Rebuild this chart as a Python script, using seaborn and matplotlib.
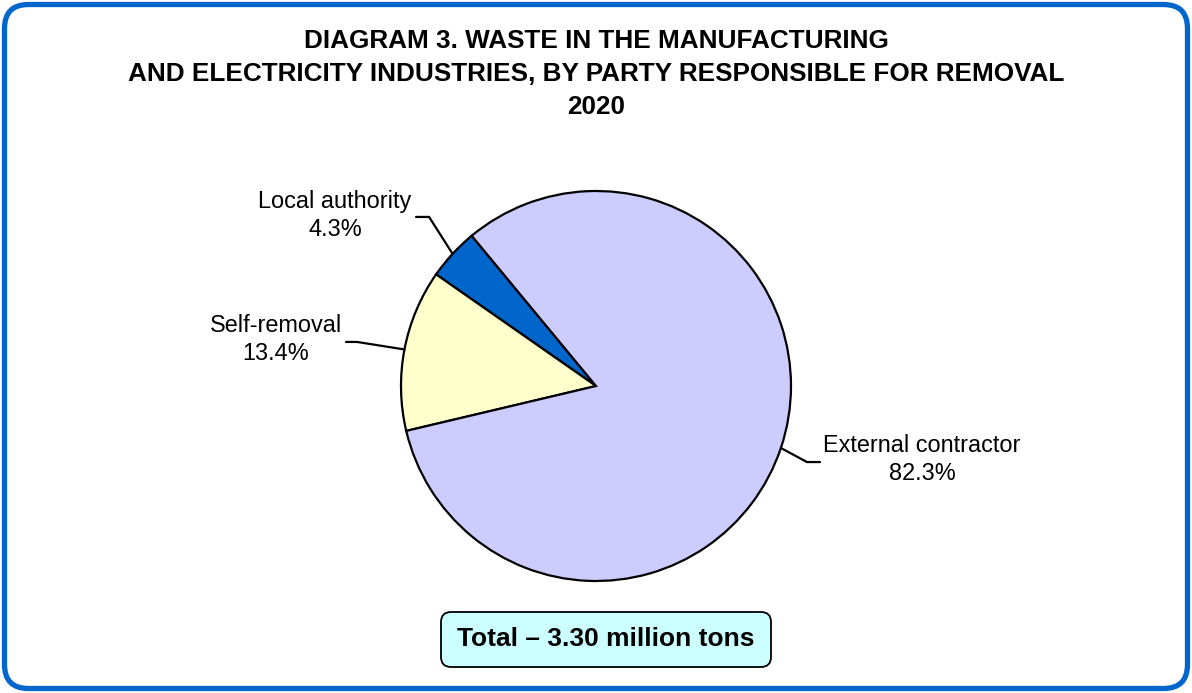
import numpy as np
import matplotlib
matplotlib.use("Agg")
import matplotlib.pyplot as plt
from matplotlib.patches import FancyBboxPatch
import seaborn as sns

# Waste by party responsible for removal, 2020 (percent of total)
categories = ["Local authority", "Self-removal", "External contractor"]
shares = [4.3, 13.4, 82.3]
total_label = "Total \u2013 3.30 million tons"
title_lines = [
    "DIAGRAM 3. WASTE IN THE MANUFACTURING",
    "AND ELECTRICITY INDUSTRIES, BY PARTY RESPONSIBLE FOR REMOVAL",
    "2020",
]

sns.set_style("white")
plt.rcParams["font.family"] = ["Liberation Sans", "DejaVu Sans"]

colors = sns.color_palette(["#0066CC", "#FFFFCC", "#CCCCFF"])

W, H = 1192, 693
fig = plt.figure(figsize=(W / 100, H / 100), dpi=100)
fig.patch.set_facecolor("white")

# outer rounded frame (display pixels)
frame = FancyBboxPatch((4.5, 4.5), W - 9, H - 9,
                       boxstyle="round,pad=0,rounding_size=24",
                       transform=None, facecolor="none",
                       edgecolor="#0066CC", linewidth=3.8, zorder=0)
fig.patches.append(frame)

# title
for i, line in enumerate(title_lines):
    fig.text(0.5, 1 - (41 + 33 * i) / H, line, ha="center", va="center",
             fontsize=18.8, fontweight="bold", color="black")

# pie: center (596, 386) px, radius 195 px
cx, cy, r = 596, 386, 195
ax = fig.add_axes([(cx - r) / W, (H - cy - r) / H, 2 * r / W, 2 * r / H])
start = 129.6
wedges, _ = ax.pie(shares, colors=colors, startangle=start, counterclock=True,
                   radius=1.0,
                   wedgeprops=dict(edgecolor="black", linewidth=1.6))
ax.set_xlim(-1, 1)
ax.set_ylim(-1, 1)
ax.set_aspect("equal")
ax.axis("off")

# leader lines from wedge mid-angle to label
layout = {
    "Local authority": dict(elbow=(-0.856, 0.867), end=-0.923, text=(-1.338, 0.872)),
    "Self-removal": dict(elbow=(-1.226, 0.226), end=-1.282, text=(-1.641, 0.236)),
    "External contractor": dict(elbow=(1.082, -0.390), end=1.149, text=(1.672, -0.377)),
}
for w, name, val in zip(wedges, categories, shares):
    mid = np.deg2rad((w.theta1 + w.theta2) / 2)
    px, py = np.cos(mid), np.sin(mid)
    L = layout[name]
    ex, ey = L["elbow"]
    ax.plot([px, ex, L["end"]], [py, ey, ey], color="black", lw=1.6,
            clip_on=False, solid_joinstyle="miter")
    ax.text(L["text"][0], L["text"][1], f"{name}\n{val:.1f}%", ha="center",
            va="center", fontsize=16.9, linespacing=1.28, color="black")

# total box
bx0, by0, bx1, by1 = 441, 612, 771, 667
box = FancyBboxPatch((bx0, H - by1), bx1 - bx0, by1 - by0,
                     boxstyle="round,pad=0,rounding_size=10",
                     transform=None, facecolor="#CCFFFF",
                     edgecolor="black", linewidth=1.3, zorder=2)
fig.patches.append(box)
fig.text((bx0 + bx1) / 2 / W, 1 - (by0 + by1) / 2 / H, total_label,
         ha="center", va="center", fontsize=19, fontweight="bold",
         color="black", zorder=3)

fig.savefig("out.png", dpi=100)
